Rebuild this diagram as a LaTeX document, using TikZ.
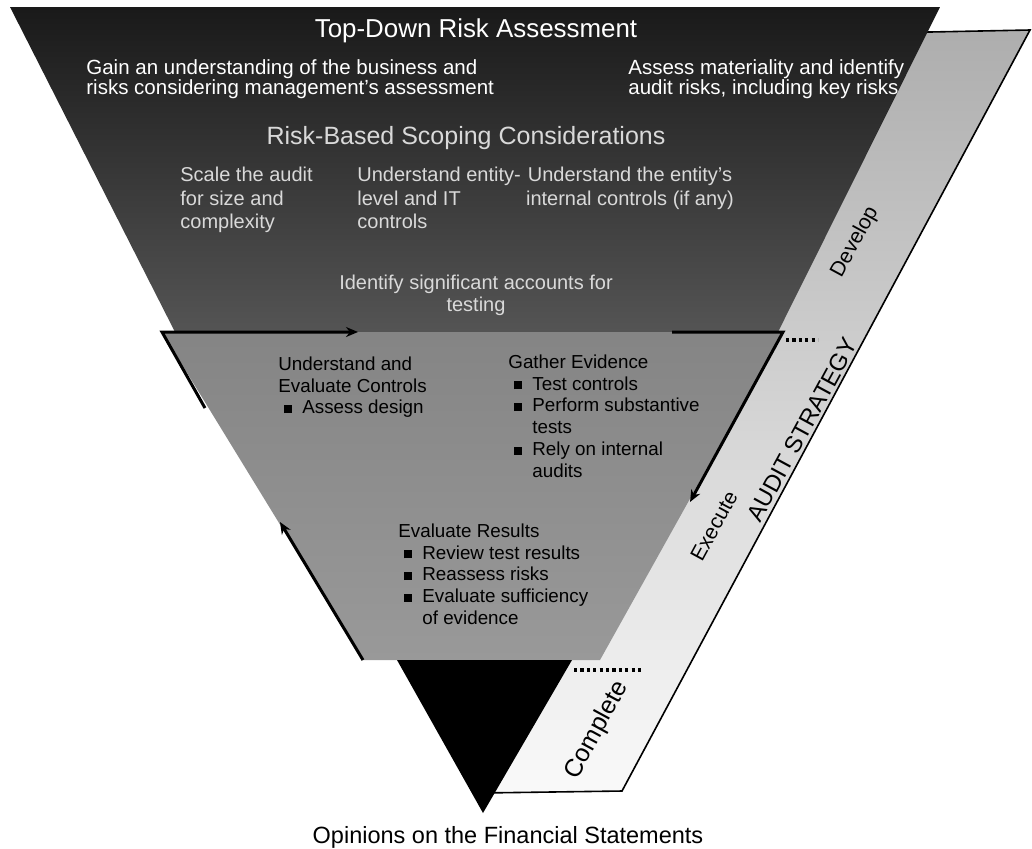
\documentclass[tikz,border=0pt]{standalone}
\usepackage{fontspec}
\setmainfont{Liberation Sans}
\usetikzlibrary{arrows.meta}

\newcommand{\sqb}{\rule[0.4pt]{4pt}{4pt}}
\newcommand{\bitem}[1]{\hspace*{3pt}\makebox[9pt][l]{\sqb}#1}
\newcommand{\bcont}[1]{\hspace*{12pt}#1}

\begin{document}
\begin{tikzpicture}[x=0.5pt,y=-0.5pt,
    flowarrow/.style={line width=1.5pt,-{Stealth[length=6pt,width=5pt]}},
    stagesep/.style={line width=1.8pt,dash pattern=on 1.6pt off 1.6pt},
    darklabel/.style={inner sep=0pt,text=white!85!black,font=\fontsize{10.25}{10}\selectfont},
    midlabel/.style={inner sep=0pt,align=left,anchor=north west,font=\fontsize{9.4}{10.85}\selectfont},
    bandlabel/.style={inner sep=0pt,rotate=61.5}]
        % Define shades for the funnel
        \definecolor{darktop}{gray}{0.10} % Top-down part
        \definecolor{darkbot}{gray}{0.33}
        \definecolor{midtop}{gray}{0.52} % Execution part
        \definecolor{midbot}{gray}{0.60}
        \definecolor{striptop}{gray}{0.68} % Strategy band
        \definecolor{stripmid}{gray}{0.88}
        \definecolor{stripbot}{gray}{0.98}

        \useasboundingbox (0,0) rectangle (1032,848);

        % Corners
        \coordinate (dTL) at (10,7);     % Top-down part
        \coordinate (dTR) at (940,7);
        \coordinate (dBR) at (778,332);
        \coordinate (dBL) at (175,332);
        \coordinate (mTL) at (162,332);  % Execution part
        \coordinate (mTR) at (783,332);
        \coordinate (mBR) at (600,660);
        \coordinate (mBL) at (363,660);
        \coordinate (tTL) at (397,660);  % Opinion tip
        \coordinate (tTR) at (572,660);
        \coordinate (tB) at (483,813);
        \coordinate (sTL) at (880,33);   % Strategy band
        \coordinate (sTR) at (1030,30);
        \coordinate (sBR) at (622,791);
        \coordinate (sBL) at (480,793);

        % Draw strategy band behind the funnel
        \shade[top color=striptop, middle color=stripmid, bottom color=stripbot] (sTL) -- (sTR) -- (sBR) -- (sBL) -- cycle;
        \draw[line width=0.8pt] (sTL) -- (sTR) -- (sBR) -- (sBL);

        % Draw funnel parts
        \shade[top color=darktop, bottom color=darkbot] (dTL) -- (dTR) -- (dBR) -- (dBL) -- cycle;
        \shade[top color=midtop, bottom color=midbot] (mTL) -- (mTR) -- (mBR) -- (mBL) -- cycle;
        \fill[black] (tTL) -- (tTR) -- (tB) -- cycle;

        % Cycle arrows on the execution part
        \coordinate (upL) at (205,408);
        \coordinate (upR) at (358,332);
        \coordinate (rsL) at (672,332);
        \coordinate (rsE) at (690,502);
        \coordinate (evE) at (280,522);
        \draw[flowarrow] (upL) -- (mTL) -- (upR);
        \draw[flowarrow] (rsL) -- (mTR) -- (rsE);
        \draw[flowarrow] (mBL) -- (evE);

        % Stage separators
        \coordinate (dev1) at (786,340);
        \coordinate (dev2) at (818,340);
        \coordinate (exe1) at (574,670);
        \coordinate (exe2) at (642,670);
        \draw[stagesep] (dev1) -- (dev2);
        \draw[stagesep] (exe1) -- (exe2);

        % Top-down texts
        \node[darklabel, text=white, font=\fontsize{12.95}{14}\selectfont, anchor=base] (title) at (476,37) {Top-Down Risk Assessment};
        \node[darklabel, text=white, align=left, anchor=north west] (gain) at (86,59) {Gain an understanding of the business and\\risks considering management's assessment};
        \node[darklabel, text=white, align=left, anchor=north west] (assess) at (628,59) {Assess materiality and identify\\audit risks, including key risks};
        \node[darklabel, font=\fontsize{12.5}{14}\selectfont, anchor=base] (scoping) at (466,144) {Risk-Based Scoping Considerations};
        \node[darklabel, font=\fontsize{10}{11.75}\selectfont, align=left, anchor=north west] (scale) at (180,167) {Scale the audit\\for size and\\complexity};
        \node[darklabel, font=\fontsize{10}{11.75}\selectfont, align=left, anchor=north west] (entity) at (357,167) {Understand entity-\\level and IT\\controls};
        \node[darklabel, font=\fontsize{10}{11.75}\selectfont, align=center, anchor=north] (internal) at (630,167) {Understand the entity's\\internal controls (if any)};
        \node[darklabel, font=\fontsize{10}{11}\selectfont, align=center, anchor=north] (accounts) at (476,275) {Identify significant accounts for\\testing};

        % Execution texts
        \node[midlabel] (controls) at (278,356.5) {Understand and\\Evaluate Controls\\\bitem{Assess design}};
        \node[midlabel] (evidence) at (508,354.5) {Gather Evidence\\\bitem{Test controls}\\\bitem{Perform substantive}\\\bcont{tests}\\\bitem{Rely on internal}\\\bcont{audits}};
        \node[midlabel] (results) at (398,523.5) {Evaluate Results\\\bitem{Review test results}\\\bitem{Reassess risks}\\\bitem{Evaluate sufficiency}\\\bcont{of evidence}};

        % Band labels
        \node[bandlabel, font=\fontsize{10.5}{12}\selectfont] (develop) at (855,242) {Develop};
        \node[bandlabel, font=\fontsize{11.9}{14}\selectfont] (strategy) at (802,430) {AUDIT STRATEGY};
        \node[bandlabel, font=\fontsize{10.5}{12}\selectfont] (execute) at (714,526) {Execute};
        \node[bandlabel, font=\fontsize{12.5}{14}\selectfont] (complete) at (597,730) {Complete};

        % Result
        \node[inner sep=0pt, anchor=base, font=\fontsize{11.75}{14}\selectfont] (opinion) at (508,843) {Opinions on the Financial Statements};
\end{tikzpicture}
\end{document}
